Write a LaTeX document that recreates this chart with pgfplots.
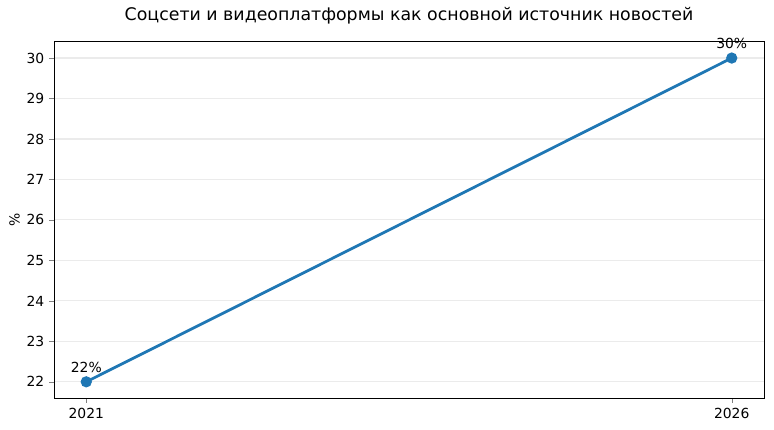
\documentclass[border=0pt]{standalone}
\usepackage{fontspec}
\setmainfont{DejaVu Sans}
\usepackage{pgfplots}
\pgfplotsset{compat=1.18}
\definecolor{mplblue}{HTML}{1F77B4}
\definecolor{gridgray}{HTML}{EBEBEB}
\begin{document}
\begin{tikzpicture}
\path[use as bounding box] (-38.88bp,-23.04bp) rectangle (518.4bp,286.56bp);
\begin{axis}[
	at={(0,0)}, anchor=south west,
	scale only axis,
	width=511.2bp, height=257bp,
	xmin=2020.75, xmax=2026.25,
	ymin=21.6, ymax=30.42,
	xtick={2021,2026},
	ytick={22,23,...,30},
	/pgf/number format/1000 sep={},
	/pgf/number format/assume math mode=true,
	tick label style={font=\fontsize{10bp}{12bp}\selectfont, color=black},
	tick align=outside,
	tick pos=left,
	major tick length=3.5bp,
	axis line style={line width=0.6bp},
	ymajorgrids,
	major grid style={gridgray, line width=0.8bp},
	ylabel={\%},
	ylabel style={font=\fontsize{10bp}{12bp}\selectfont, at={(ticklabel cs:0.5)}, yshift=-2bp},
	title={Соцсети и видеоплатформы как основной источник новостей},
	title style={font=\fontsize{12.5bp}{14bp}\selectfont, yshift=3bp},
	nodes near coords,
	point meta=explicit symbolic,
	every node near coord/.append style={font=\fontsize{10bp}{12bp}\selectfont, color=black, yshift=2.5bp},
]
\addplot[mplblue, line width=2bp, mark=*, mark size=3bp, mark options={fill=mplblue, draw=mplblue}] table[meta=label] {
x y label
2021 22 22\%
2026 30 30\%
};
\end{axis}
\end{tikzpicture}
\end{document}
